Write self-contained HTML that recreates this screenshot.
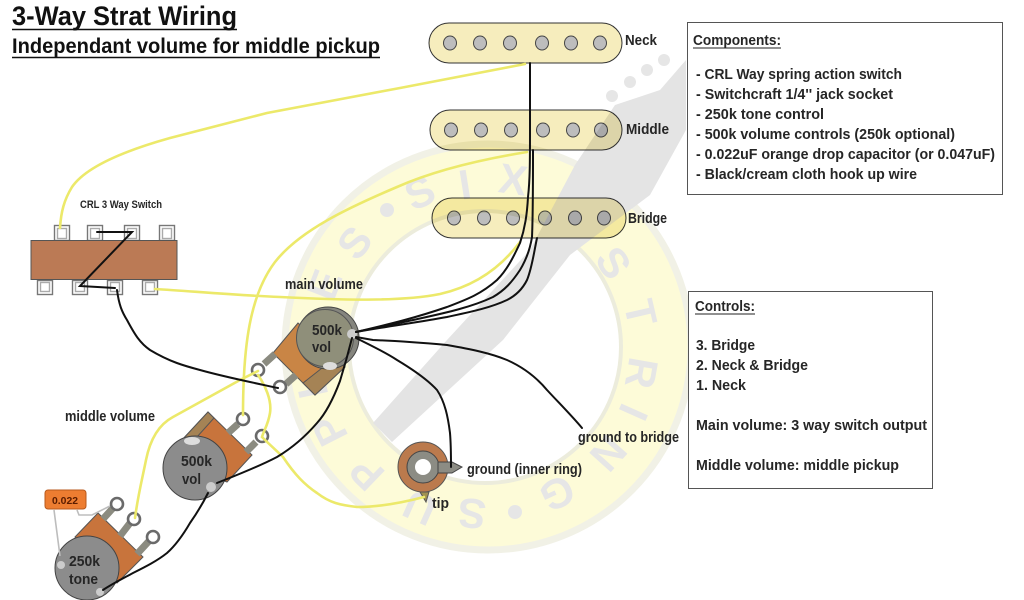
<!DOCTYPE html>
<html><head><meta charset="utf-8"><style>
html,body{margin:0;padding:0;background:#fff;width:1024px;height:600px;overflow:hidden}
svg{display:block;position:absolute;left:0;top:0;filter:blur(.35px)}
text{font-family:"Liberation Sans",sans-serif;font-weight:bold;fill:#262626;font-size:14.5px}
.w{fill:none;stroke:#111;stroke-width:2;stroke-linecap:round}
.y{fill:none;stroke:#ece96a;stroke-width:2.6;stroke-linecap:round}
.p{fill:#bdbdbd;stroke:#444;stroke-width:1}
.pk{fill:#f6edbd;stroke:#333;stroke-width:1}
.in{fill:#fff;stroke:#6a6a6a;stroke-width:2.6}
.rod{stroke:#8b8b80;stroke-width:7}
.wm text{font-size:42px;fill:#e6e6e6;text-anchor:middle}
.wm{mix-blend-mode:multiply}
.lo{fill:#fff;stroke:#777;stroke-width:1.4}
.li{fill:#fff;stroke:#aaa;stroke-width:1.4}
</style></head><body>
<svg width="1024" height="600" viewBox="0 0 1024 600">
<!-- pickups -->
<rect class="pk" x="429" y="23" width="193" height="40" rx="20"/>
<rect class="pk" x="430" y="110" width="192" height="40" rx="20"/>
<rect class="pk" x="432" y="198" width="194" height="40" rx="20"/>
<g class="p">
<ellipse cx="450" cy="43" rx="6.5" ry="7"/><ellipse cx="480" cy="43" rx="6.5" ry="7"/><ellipse cx="510" cy="43" rx="6.5" ry="7"/><ellipse cx="542" cy="43" rx="6.5" ry="7"/><ellipse cx="571" cy="43" rx="6.5" ry="7"/><ellipse cx="600" cy="43" rx="6.5" ry="7"/>
<ellipse cx="451" cy="130" rx="6.5" ry="7"/><ellipse cx="481" cy="130" rx="6.5" ry="7"/><ellipse cx="511" cy="130" rx="6.5" ry="7"/><ellipse cx="543" cy="130" rx="6.5" ry="7"/><ellipse cx="573" cy="130" rx="6.5" ry="7"/><ellipse cx="601" cy="130" rx="6.5" ry="7"/>
<ellipse cx="454" cy="218" rx="6.5" ry="7"/><ellipse cx="484" cy="218" rx="6.5" ry="7"/><ellipse cx="513" cy="218" rx="6.5" ry="7"/><ellipse cx="545" cy="218" rx="6.5" ry="7"/><ellipse cx="575" cy="218" rx="6.5" ry="7"/><ellipse cx="604" cy="218" rx="6.5" ry="7"/>
</g>

<!-- watermark (multiplied over pickups) -->
<g class="wm">
<circle cx="488" cy="347" r="206" fill="#fdfbd8"/>
<circle cx="488" cy="347" r="203" fill="none" stroke="#f1f1e6" stroke-width="7"/>
<circle cx="485" cy="347" r="136" fill="#fff" stroke="#ececdc" stroke-width="4"/>
<polygon points="373,423 392,442 503,340 570,255 650,195 686,130 686,60 660,90 615,105 575,165 530,250 447,340" fill="#e4e4e4"/>
<g fill="#e6e6e6"><circle cx="612" cy="96" r="6"/><circle cx="630" cy="82" r="6"/><circle cx="647" cy="70" r="6"/><circle cx="664" cy="60" r="6"/></g>
<text transform="translate(355,243) rotate(-52)" y="14">S</text>
<circle cx="387" cy="210" r="7" fill="#e6e6e6"/>
<text transform="translate(420,193) rotate(-24)" y="14">S</text>
<text transform="translate(465,185) rotate(-9)" y="14">I</text>
<text transform="translate(513,180) rotate(8)" y="14">X</text>
<text transform="translate(613,263) rotate(56)" y="14">S</text>
<text transform="translate(640,313) rotate(77)" y="14">T</text>
<text transform="translate(641,373) rotate(100)" y="14">R</text>
<text transform="translate(633,412) rotate(114)" y="14">I</text>
<text transform="translate(608,453) rotate(132)" y="14">N</text>
<text transform="translate(557,493) rotate(155)" y="14">G</text>
<circle cx="515" cy="512" r="7" fill="#e6e6e6"/>
<text transform="translate(472,513) rotate(186)" y="14">S</text>
<text transform="translate(420,507) rotate(204)" y="14">U</text>
<text transform="translate(367,473) rotate(224)" y="14">P</text>
<text transform="translate(330,430) rotate(243)" y="14">P</text>
<text transform="translate(312,385) rotate(258)" y="14">L</text>
<text transform="translate(305,335) rotate(274)" y="14">I</text>
<text transform="translate(325,285) rotate(291)" y="14">E</text>
</g>

<!-- titles -->
<text x="12" y="25" style="font-size:27px;fill:#111" textLength="225" lengthAdjust="spacingAndGlyphs">3-Way Strat Wiring</text>
<line x1="12" y1="29.5" x2="237" y2="29.5" stroke="#111" stroke-width="1.6"/>
<text x="12" y="53" style="font-size:21.5px;fill:#111" textLength="368" lengthAdjust="spacingAndGlyphs">Independant volume for middle pickup</text>
<line x1="12" y1="57.5" x2="380" y2="57.5" stroke="#111" stroke-width="1.6"/>
<text x="625" y="45" textLength="32" lengthAdjust="spacingAndGlyphs">Neck</text>
<text x="626" y="134" textLength="43" lengthAdjust="spacingAndGlyphs">Middle</text>
<text x="628" y="223" textLength="39" lengthAdjust="spacingAndGlyphs">Bridge</text>
<text x="80" y="208" style="font-size:11px" textLength="82" lengthAdjust="spacingAndGlyphs">CRL 3 Way Switch</text>
<text x="285" y="289" textLength="78" lengthAdjust="spacingAndGlyphs">main volume</text>
<text x="65" y="421" textLength="90" lengthAdjust="spacingAndGlyphs">middle volume</text>
<text x="578" y="442" textLength="101" lengthAdjust="spacingAndGlyphs">ground to bridge</text>
<text x="467" y="474" textLength="115" lengthAdjust="spacingAndGlyphs">ground (inner ring)</text>
<text x="432" y="508" textLength="17" lengthAdjust="spacingAndGlyphs">tip</text>

<!-- boxes -->
<rect x="687.5" y="22.5" width="315" height="172" fill="#fff" stroke="#555"/>
<text x="693" y="45" textLength="88" lengthAdjust="spacingAndGlyphs">Components:</text>
<line x1="693" y1="48" x2="781" y2="48" stroke="#222"/>
<text x="696" y="79" textLength="206" lengthAdjust="spacingAndGlyphs">- CRL  Way spring action switch</text>
<text x="696" y="99" textLength="197" lengthAdjust="spacingAndGlyphs">- Switchcraft 1/4'' jack socket</text>
<text x="696" y="119" textLength="128" lengthAdjust="spacingAndGlyphs">- 250k tone control</text>
<text x="696" y="139" textLength="259" lengthAdjust="spacingAndGlyphs">- 500k volume controls (250k optional)</text>
<text x="696" y="159" textLength="299" lengthAdjust="spacingAndGlyphs">- 0.022uF orange drop capacitor (or 0.047uF)</text>
<text x="696" y="179" textLength="221" lengthAdjust="spacingAndGlyphs">- Black/cream cloth hook up wire</text>
<rect x="688.5" y="291.5" width="244" height="197" fill="#fff" stroke="#555"/>
<text x="695" y="311" textLength="60" lengthAdjust="spacingAndGlyphs">Controls:</text>
<line x1="695" y1="314" x2="755" y2="314" stroke="#222"/>
<text x="696" y="350" textLength="59" lengthAdjust="spacingAndGlyphs">3. Bridge</text>
<text x="696" y="370" textLength="112" lengthAdjust="spacingAndGlyphs">2. Neck &amp; Bridge</text>
<text x="696" y="390" textLength="50" lengthAdjust="spacingAndGlyphs">1. Neck</text>
<text x="696" y="430" textLength="231" lengthAdjust="spacingAndGlyphs">Main volume: 3 way switch output</text>
<text x="696" y="470" textLength="203" lengthAdjust="spacingAndGlyphs">Middle volume: middle pickup</text>

<!-- switch -->
<rect class="lo" x="54.5" y="225.5" width="15" height="15"/><rect class="li" x="57.5" y="228.5" width="9" height="10"/>
<rect class="lo" x="87.5" y="225.5" width="15" height="15"/><rect class="li" x="90.5" y="228.5" width="9" height="10"/>
<rect class="lo" x="124.5" y="225.5" width="15" height="15"/><rect class="li" x="127.5" y="228.5" width="9" height="10"/>
<rect class="lo" x="159.5" y="225.5" width="15" height="15"/><rect class="li" x="162.5" y="228.5" width="9" height="10"/>
<rect class="lo" x="37.5" y="280.5" width="15" height="14"/><rect class="li" x="40.5" y="282.5" width="9" height="9"/>
<rect class="lo" x="72.5" y="280.5" width="15" height="14"/><rect class="li" x="75.5" y="282.5" width="9" height="9"/>
<rect class="lo" x="107.5" y="280.5" width="15" height="14"/><rect class="li" x="110.5" y="282.5" width="9" height="9"/>
<rect class="lo" x="142.5" y="280.5" width="15" height="14"/><rect class="li" x="145.5" y="282.5" width="9" height="9"/>
<rect x="31" y="240.5" width="146" height="39" fill="#bb7a55" stroke="#555"/>

<!-- main pot -->
<polygon points="273,353 315,395 345,367 298,323" fill="#c98545" stroke="#555"/>
<polygon points="303,383 315,395 345,367 336,357" fill="#a58355" stroke="#555"/>
<line class="rod" x1="275" y1="354" x2="264" y2="364"/><line class="rod" x1="296" y1="375" x2="286" y2="384"/>
<circle cx="258" cy="370" r="6" class="in"/><circle cx="280" cy="387" r="6" class="in"/>
<circle cx="328" cy="338" r="31" fill="#85857e" stroke="#444"/>
<circle cx="325" cy="338" r="28.5" fill="#8f8f7a" stroke="#555"/>
<ellipse cx="330" cy="366" rx="7" ry="4" fill="#ddd"/>
<circle cx="352" cy="334" r="5" fill="#ccc"/>
<text x="312" y="335" style="font-size:15px" textLength="30" lengthAdjust="spacingAndGlyphs">500k</text>
<text x="312" y="352" style="font-size:15px" textLength="19" lengthAdjust="spacingAndGlyphs">vol</text>

<!-- middle pot -->
<polygon points="182,440 208,412 252,455 227,482 195,470" fill="#c8743c" stroke="#555"/>
<polygon points="182,440 208,412 214,418 188,447" fill="#a58355" stroke="#555"/>
<line class="rod" x1="228" y1="433" x2="238" y2="424"/><line class="rod" x1="246" y1="452" x2="256" y2="442"/>
<circle cx="243" cy="419" r="6" class="in"/><circle cx="262" cy="436" r="6" class="in"/>
<circle cx="195" cy="468" r="32" fill="#8c8c8c" stroke="#444"/>
<ellipse cx="192" cy="441" rx="8" ry="4" fill="#ddd"/>
<circle cx="211" cy="487" r="5" fill="#ccc"/>
<text x="181" y="466" style="font-size:15px" textLength="31" lengthAdjust="spacingAndGlyphs">500k</text>
<text x="182" y="484" style="font-size:15px" textLength="19" lengthAdjust="spacingAndGlyphs">vol</text>

<!-- tone pot -->
<polygon points="75,537 98,513 143,557 117,583" fill="#c8743c" stroke="#555"/>
<line class="rod" x1="103" y1="519" x2="113" y2="508"/><line class="rod" x1="120" y1="536" x2="130" y2="523"/><line class="rod" x1="137" y1="554" x2="149" y2="541"/>
<circle cx="117" cy="504" r="6" class="in"/><circle cx="134" cy="519" r="6" class="in"/><circle cx="153" cy="537" r="6" class="in"/>
<circle cx="87" cy="568" r="32" fill="#8c8c8c" stroke="#444"/>
<circle cx="61" cy="565" r="4" fill="#ccc"/><circle cx="100" cy="592" r="4" fill="#ccc"/>
<text x="69" y="566" style="font-size:15px" textLength="31" lengthAdjust="spacingAndGlyphs">250k</text>
<text x="69" y="584" style="font-size:15px" textLength="29" lengthAdjust="spacingAndGlyphs">tone</text>

<!-- capacitor -->
<path d="M54 510 L60 556 M77 510 L79 515 L92 515 L110 506" fill="none" stroke="#bdbdbd" stroke-width="1.6"/>
<rect x="45" y="490" width="41" height="19" rx="3" fill="#ed7d31" stroke="#b8591c"/>
<text x="52" y="504" style="font-size:10px;fill:#5a1c00" textLength="26" lengthAdjust="spacingAndGlyphs">0.022</text>

<!-- jack -->
<circle cx="423" cy="467" r="25" fill="#bb7a4d" stroke="#555"/>
<circle cx="423" cy="467" r="16" fill="#8c8c84" stroke="#444"/>
<circle cx="423" cy="467" r="8" fill="#fff"/>
<path d="M438 462 L452 462 L462 467 L452 473 L438 473 Z" fill="#8c8c84" stroke="#444"/>
<path d="M420 492 L429 492 L426 502 Z" fill="#a09050" stroke="#555"/>

<!-- yellow wires -->
<path class="y" d="M525 64 L400 88 L267 113 L170 138 C120 152 85 168 72 187 C64 200 61 212 60 228"/>
<path class="y" d="M527 152 C490 158 440 168 397 187 C350 207 300 230 275 262 C250 295 243 345 243 415"/>
<path class="y" d="M520 242 C505 262 480 285 440 294 C400 302 340 300 280 297 C230 295 190 291 155 289"/>
<path class="y" d="M135 518 C138 495 142 480 146 460 C150 440 158 425 173 417 L240 380 L258 371"/>
<path class="y" d="M258 375 C265 385 272 400 270 413 C268 425 264 430 262 437 C270 445 278 452 283 457 C295 475 305 485 317 493 C330 503 340 505 357 507 C380 507 405 502 424 497"/>

<!-- black wires -->
<path class="w" d="M97 232 L132 232 L80 286 L115 288"/>
<path class="w" d="M117 290 C119 305 122 312 127 320 C135 335 140 343 150 350 C170 362 185 366 200 370 C225 377 250 382 278 388"/>
<path class="w" d="M530 63 L530 130 C530 160 530 180 528 197 C527 215 525 228 520 243 C513 258 507 270 497 280 C480 295 465 300 447 307 C415 318 390 324 356 332"/>
<path class="w" d="M533 150 C533 180 533 215 532 237 C530 250 526 260 520 270 C512 282 505 290 493 297 C470 308 440 314 413 320 C395 324 375 328 356 332"/>
<path class="w" d="M537 238 C534 252 532 268 527 280 C522 290 515 296 507 300 C490 308 470 312 447 317 C420 322 390 326 356 332"/>
<path class="w" d="M356 337 L373 340 C400 341 425 343 447 345 C470 349 490 353 507 360 C525 368 537 378 547 390 C560 404 572 416 582 428"/>
<path class="w" d="M356 338 C370 345 385 352 397 360 C412 369 427 379 437 390 C445 402 448 417 450 433 C451 445 451 456 451 467"/>
<path class="w" d="M352 338 C349 350 344 368 340 381 C334 397 327 412 317 423 C305 437 292 448 277 457 C258 467 237 475 217 483"/>
<path class="w" d="M208 493 C203 503 197 513 190 523 C183 535 176 545 167 553 C157 561 145 567 133 573 C122 579 112 584 103 590"/>
</svg>
</body></html>
